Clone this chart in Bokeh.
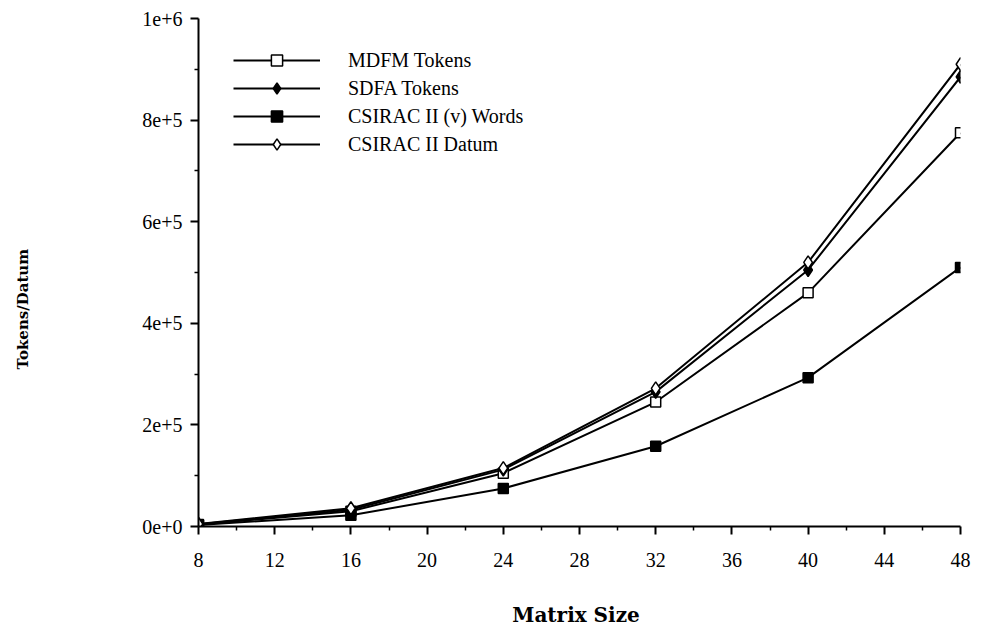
import math
from bokeh.plotting import figure
from bokeh.models import Range1d, FixedTicker, Legend, LegendItem, Title
from bokeh.embed import file_html
from bokeh.resources import INLINE

# ---- data ----
matrix_size = [8, 16, 24, 32, 40, 48]
mdfm_tokens = [4000, 30000, 105000, 245000, 460000, 775000]
sdfa_tokens = [4500, 33000, 112000, 265000, 505000, 885000]
csirac_words = [3000, 22000, 75000, 158000, 293000, 510000]
csirac_datum = [5000, 36000, 115000, 272000, 520000, 910000]

x_ticks = [8, 12, 16, 20, 24, 28, 32, 36, 40, 44, 48]
x_minor = [10, 14, 18, 22, 26, 30, 34, 38, 42, 46]
y_ticks = [0, 200000, 400000, 600000, 800000, 1000000]
y_minor = [100000, 300000, 500000, 700000, 900000]
y_tick_labels = ["0e+0", "2e+5", "4e+5", "6e+5", "8e+5", "1e+6"]

W, H = 982, 629
LEFT, RIGHT, TOP, BOTTOM = 198, 22, 18, 102

p = figure(width=W, height=H, output_backend="svg", toolbar_location=None,
           x_range=Range1d(8, 48), y_range=Range1d(0, 1000000),
           min_border_left=LEFT, min_border_right=RIGHT,
           min_border_top=TOP, min_border_bottom=BOTTOM)
p.outline_line_color = None
p.xgrid.visible = False
p.ygrid.visible = False
p.background_fill_color = "white"
p.border_fill_color = "white"

tick_font = "Liberation Serif"
for ax in (p.xaxis[0], p.yaxis[0]):
    ax.axis_line_width = 2
    ax.axis_line_color = "black"
    ax.major_tick_line_width = 2
    ax.major_tick_line_color = "black"
    ax.minor_tick_line_width = 1.5
    ax.minor_tick_line_color = "black"
    ax.major_tick_in = 0
    ax.major_tick_out = 8
    ax.minor_tick_in = 0
    ax.minor_tick_out = 4
    ax.major_label_text_font = tick_font
    ax.major_label_text_font_size = "20px"
    ax.major_label_text_color = "black"

p.xaxis.ticker = FixedTicker(ticks=x_ticks, minor_ticks=x_minor)
p.xaxis.major_label_standoff = 18
p.xaxis.axis_label = "Matrix  Size"
p.xaxis.axis_label_text_font = "DejaVu Serif"
p.xaxis.axis_label_text_font_style = "bold"
p.xaxis.axis_label_text_font_size = "20px"
p.xaxis.axis_label_text_color = "black"
p.xaxis.axis_label_standoff = 33

p.yaxis.ticker = FixedTicker(ticks=y_ticks, minor_ticks=y_minor)
p.yaxis.major_label_overrides = {t: s for t, s in zip(y_ticks, y_tick_labels)}
p.yaxis.major_label_standoff = 8
# blank axis label used only as a spacer so the real title sits at the far left
p.yaxis.axis_label = " "
p.yaxis.axis_label_text_font_size = "15px"
p.yaxis.axis_label_standoff = 88

ytitle = Title(text="Tokens/Datum", align="left", offset=157, standoff=0,
               text_font="DejaVu Serif", text_font_style="bold",
               text_font_size="15px", text_color="black")
p.add_layout(ytitle, "left")

series = [
    ("MDFM Tokens", mdfm_tokens, "square", "white", 10),
    ("SDFA Tokens", sdfa_tokens, "diamond", "black", 13),
    ("CSIRAC II (v) Words", csirac_words, "square", "black", 10),
    ("CSIRAC II Datum", csirac_datum, "diamond", "white", 13),
]

items = []
for name, vals, marker, fill, size in series:
    ln = p.line(matrix_size, vals, line_color="black", line_width=2)
    sc = p.scatter(matrix_size, vals, marker=marker, size=size,
                   fill_color=fill, line_color="black", line_width=1.5)
    items.append(LegendItem(label=name, renderers=[ln, sc]))

legend = Legend(items=items, location=(35, 368))
legend.glyph_width = 87
legend.glyph_height = 28
legend.label_height = 28
legend.spacing = 0
legend.padding = 0
legend.margin = 0
legend.label_standoff = 28
legend.label_text_font = tick_font
legend.label_text_font_size = "20px"
legend.label_text_color = "black"
legend.border_line_color = None
legend.background_fill_alpha = 0
p.add_layout(legend)

open("out.html", "w").write(file_html(p, INLINE))
